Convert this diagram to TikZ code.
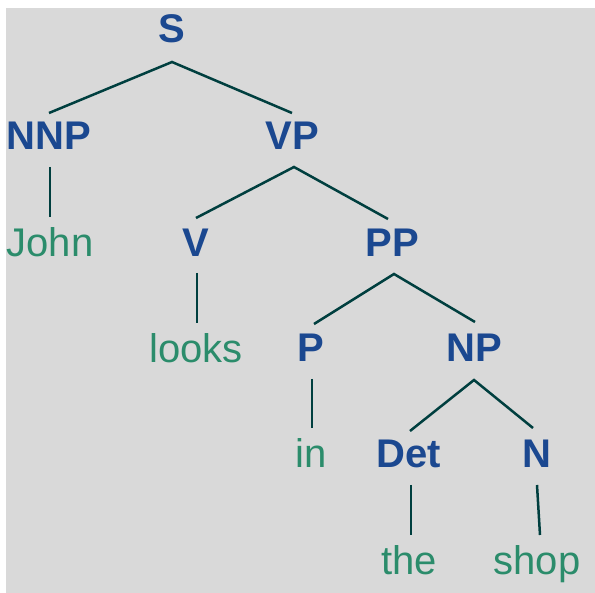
\documentclass[tikz,border=0pt]{standalone}
\usepackage{fontspec}
\setmainfont{Liberation Sans}
\usetikzlibrary{calc}
\definecolor{bgray}{HTML}{D9D9D9}
\definecolor{labblue}{HTML}{1B4890}
\definecolor{leafgreen}{HTML}{2B8C6B}
\definecolor{edgecol}{HTML}{003F3F}
\begin{document}
\begin{tikzpicture}[x=1pt,y=-1pt,
  lab/.style={anchor=base,inner sep=0pt,text=labblue,font=\fontsize{40}{48}\selectfont\bfseries},
  leaf/.style={anchor=base,inner sep=0pt,text=leafgreen,font=\fontsize{40}{48}\selectfont},
  edge/.style={draw=edgecol,line width=2.5pt}]
\useasboundingbox (0,0) rectangle (595,593);
\fill[white] (0,0) rectangle (595,593);
\fill[bgray] (6,8) rectangle (595,593);
% nodes
\node[lab] (S) at (172,43) {S};
\node[lab] (NNP) at (49,150) {NNP};
\node[lab] (VP) at (292,150) {VP};
\node[leaf] (John) at (50,257) {John};
\node[lab] (V) at (196,257) {V};
\node[lab] (PP) at (392,257) {PP};
\node[leaf] (looks) at (196,363) {looks};
\node[lab] (P) at (311,362) {P};
\node[lab] (NP) at (474,362) {NP};
\node[leaf] (in) at (311,468) {in};
\node[lab] (Det) at (409,468) {Det};
\node[lab] (N) at (537,468) {N};
\node[leaf] (the) at (409,575) {the};
\node[leaf] (shop) at (537,575) {shop};
% edges
\draw[edge] ($(NNP.base)+(0,-37)$) -- ($(S.base)+(0,19)$) -- ($(VP.base)+(0,-37)$);
\draw[edge] ($(NNP.base)+(1,17)$) -- ($(John.base)+(0,-40)$);
\draw[edge] ($(V.base)+(0,-39)$) -- ($(VP.base)+(2,17)$) -- ($(PP.base)+(-4,-38)$);
\draw[edge] ($(V.base)+(1,16)$) -- ($(looks.base)+(1,-40)$);
\draw[edge] ($(P.base)+(3,-38)$) -- ($(PP.base)+(2,17)$) -- ($(NP.base)+(1,-40)$);
\draw[edge] ($(P.base)+(1,17)$) -- ($(in.base)+(1,-40)$);
\draw[edge] ($(Det.base)+(1,-37)$) -- ($(NP.base)+(0,18)$) -- ($(N.base)+(-4,-40)$);
\draw[edge] ($(Det.base)+(2,17)$) -- ($(the.base)+(2,-40)$);
\draw[edge] ($(N.base)+(0,17)$) -- ($(shop.base)+(3,-40)$);
\end{tikzpicture}
\end{document}
